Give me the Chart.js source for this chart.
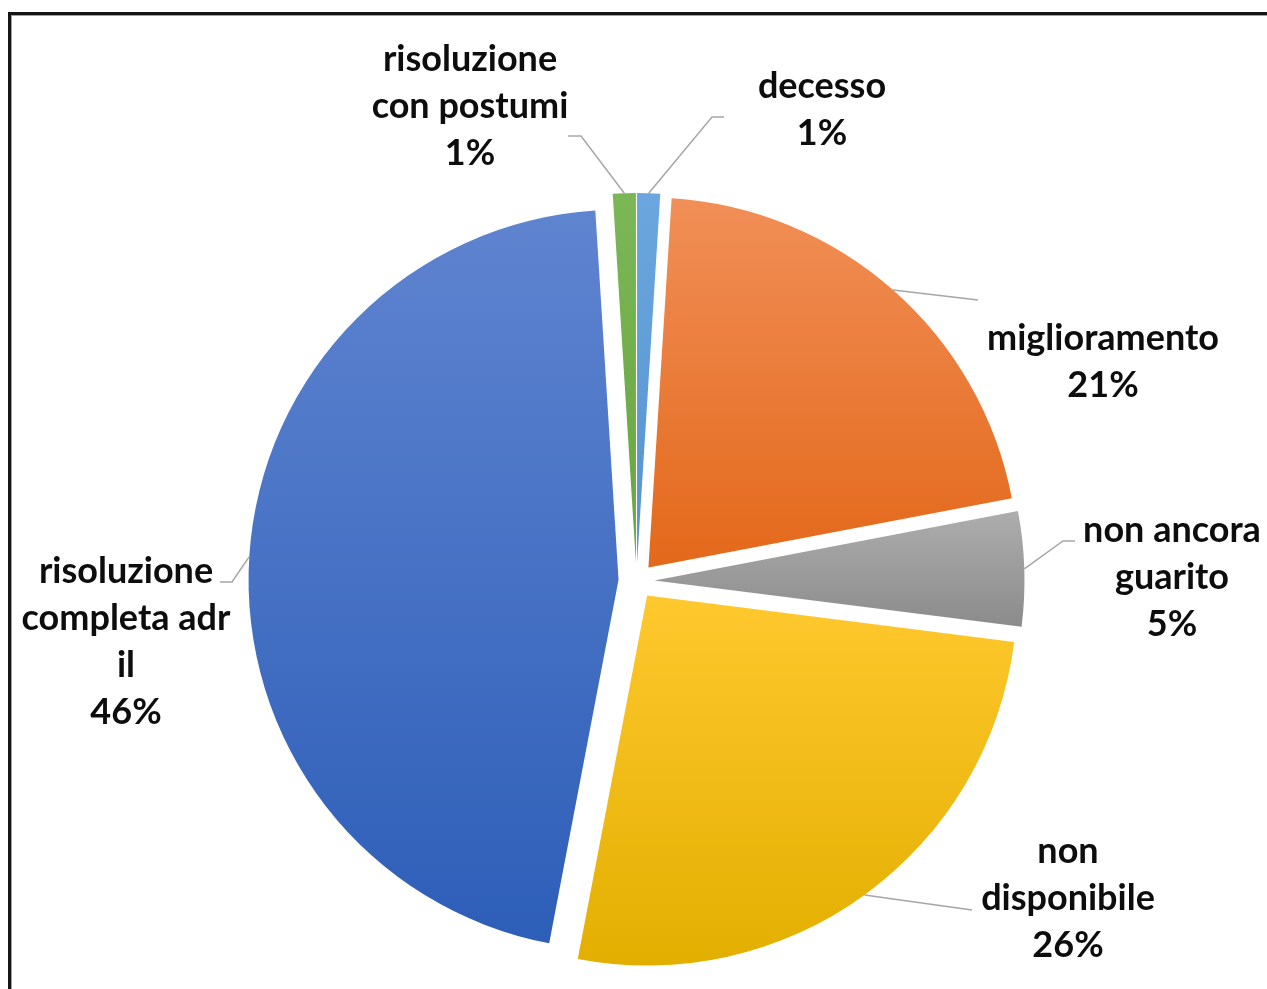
<!DOCTYPE html>
<html>
<head>
<meta charset="utf-8">
<script src="https://cdn.jsdelivr.net/npm/chart.js@4.4.1/dist/chart.umd.min.js"></script>
<style>
html, body { margin: 0; padding: 0; background: #fff; overflow: hidden; }
#frame {
  position: absolute; left: 8px; top: 12px; width: 1400px; height: 1100px;
  border-left: 3px solid #151515; border-top: 3px solid #151515;
  box-shadow: inset 1px 1px 0 #a0a0a0;
}
#chart { position: absolute; left: 0; top: 0; }
</style>
</head>
<body>
<div id="frame"></div>
<canvas id="chart" width="1267" height="989"></canvas>
<script>
// esito delle reazioni avverse

const categories = [
  ["decesso"],
  ["miglioramento"],
  ["non ancora", "guarito"],
  ["non", "disponibile"],
  ["risoluzione", "completa adr", "il"],
  ["risoluzione", "con postumi"]
]

const percents = [1, 21, 5, 26, 46, 1]

const colorTop = ["#6ba6de", "#f18f57", "#adadad", "#ffc82e", "#5f84d0", "#7bb757"]
const colorBottom = ["#5592cf", "#e3681a", "#8b8b8b", "#e2af00", "#2d5eb8", "#68a53f"]

// where each label block sits, and the leader bend / end points
const labelLayout = [
  { x: 822, y: 110, bend: [712, 117], end: [724, 117] },
  { x: 1103, y: 362, bend: null, end: [978, 300] },
  { x: 1172, y: 577, bend: [1063, 541], end: [1075, 541] },
  { x: 1068, y: 898, bend: null, end: [972, 910] },
  { x: 126, y: 642, bend: [232, 582], end: [220, 582] },
  { x: 470, y: 106, bend: [581, 136], end: [568, 136] }
]

const EXPLODE = 18
const LINE_H = 47

const explodePlugin = {
  id: "explode",
  afterDatasetsUpdate(chart) {
    const ctx = chart.ctx
    const arcs = chart.getDatasetMeta(0).data
    arcs.forEach((arc, i) => {
      const mid = (arc.startAngle + arc.endAngle) / 2
      arc.x += Math.cos(mid) * EXPLODE
      arc.y += Math.sin(mid) * EXPLODE

      // vertical gradient over the slice's own height
      let minY = arc.y, maxY = arc.y
      for (let k = 0; k <= 60; k++) {
        const a = arc.startAngle + (arc.endAngle - arc.startAngle) * k / 60
        const py = arc.y + Math.sin(a) * arc.outerRadius
        minY = Math.min(minY, py)
        maxY = Math.max(maxY, py)
      }
      const g = ctx.createLinearGradient(0, minY, 0, maxY)
      g.addColorStop(0, colorTop[i])
      g.addColorStop(1, colorBottom[i])
      arc.options = Object.assign({}, arc.options, { backgroundColor: g })
    })
  }
}

const labelPlugin = {
  id: "pieLabels",
  afterDatasetsDraw(chart) {
    const ctx = chart.ctx
    const arcs = chart.getDatasetMeta(0).data
    ctx.save()
    arcs.forEach((arc, i) => {
      const mid = (arc.startAngle + arc.endAngle) / 2
      const sx = arc.x + Math.cos(mid) * arc.outerRadius
      const sy = arc.y + Math.sin(mid) * arc.outerRadius
      const lay = labelLayout[i]

      ctx.strokeStyle = "#a6a6a6"
      ctx.lineWidth = 1.5
      ctx.beginPath()
      ctx.moveTo(sx, sy)
      if (lay.bend) ctx.lineTo(lay.bend[0], lay.bend[1])
      ctx.lineTo(lay.end[0], lay.end[1])
      ctx.stroke()

      const lines = categories[i].concat([percents[i] + "%"])
      ctx.fillStyle = "#0d0d0d"
      ctx.font = "bold 36px Lato"
      ctx.textAlign = "center"
      ctx.textBaseline = "middle"
      const top = lay.y - (lines.length - 1) * LINE_H / 2
      lines.forEach((t, k) => ctx.fillText(t, lay.x, top + k * LINE_H))
    })
    ctx.restore()
  }
}

const chart = new Chart(document.getElementById("chart").getContext("2d"), {
  type: "pie",
  data: {
    labels: categories,
    datasets: [{
      data: percents,
      backgroundColor: colorTop,
      borderWidth: 0
    }]
  },
  options: {
    responsive: false,
    animation: false,
    events: [],
    radius: 370,
    layout: { padding: { left: 6, right: 0, top: 173, bottom: 0 } },
    plugins: {
      legend: { display: false },
      tooltip: { enabled: false }
    }
  },
  plugins: [explodePlugin, labelPlugin]
})
</script>
</body>
</html>
